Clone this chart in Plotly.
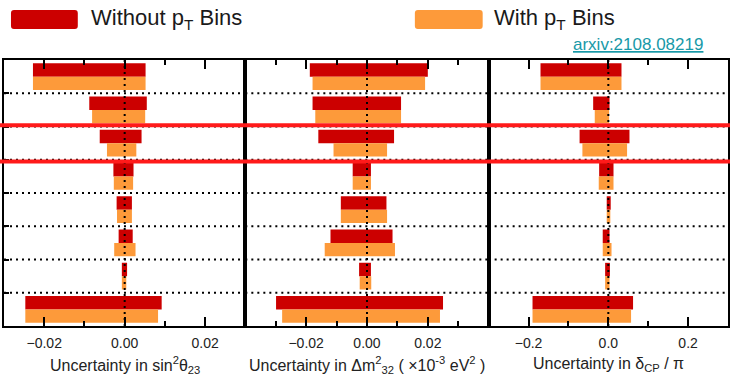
import plotly.graph_objects as go

# ---- data ----
rows = [0, 1, 2, 3, 4, 5, 6, 7]

# sin^2 theta23
s23_wo_lo = [-0.0228, -0.0088, -0.0062, -0.0028, -0.0020, -0.0015, -0.0007, -0.0247]
s23_wo_hi = [0.0052, 0.0055, 0.0042, 0.0022, 0.0018, 0.0020, 0.0006, 0.0092]
s23_w_lo = [-0.0228, -0.0081, -0.0044, -0.0027, -0.0019, -0.0026, -0.0007, -0.0247]
s23_w_hi = [0.0052, 0.0051, 0.0029, 0.0021, 0.0018, 0.0027, 0.0004, 0.0083]

# delta m^2_32
dm_wo_lo = [-0.0188, -0.0179, -0.0160, -0.0047, -0.0086, -0.0120, -0.0026, -0.0299]
dm_wo_hi = [0.0200, 0.0112, 0.0089, 0.0013, 0.0064, 0.0084, 0.0013, 0.0250]
dm_w_lo = [-0.0179, -0.0170, -0.0110, -0.0047, -0.0086, -0.0139, -0.0024, -0.0279]
dm_w_hi = [0.0191, 0.0112, 0.0066, 0.0013, 0.0066, 0.0092, 0.0014, 0.0240]

# delta_CP / pi
cp_wo_lo = [-0.170, -0.038, -0.072, -0.023, -0.004, -0.014, -0.008, -0.190]
cp_wo_hi = [0.033, 0.003, 0.053, 0.013, 0.006, 0.003, 0.004, 0.062]
cp_w_lo = [-0.170, -0.034, -0.065, -0.024, -0.004, -0.014, -0.008, -0.190]
cp_w_hi = [0.033, 0.002, 0.047, 0.013, 0.005, 0.008, 0.003, 0.057]

series_names = ["Without p<sub>T</sub> Bins", "With p<sub>T</sub> Bins"]
axis_titles = [
    "Uncertainty in sin<sup>2</sup>θ<sub>23</sub>",
    "Uncertainty in Δm<sup>2</sup><sub>32</sub> ( ×10<sup>-3</sup> eV<sup>2</sup> )",
    "Uncertainty in δ<sub>CP</sub> / π",
]
x_ranges = [[-0.03, 0.03], [-0.04, 0.04], [-0.3, 0.3]]
x_majors = [[-0.02, 0.0, 0.02], [-0.02, 0.0, 0.02], [-0.2, 0.0, 0.2]]
x_minor = [0.01, 0.01, 0.1]
x_fmt = [".2f", ".2f", ".1f"]
separators = [0.5, 1.5, 2.5, 3.5, 4.5, 5.5, 6.5]
highlight_y = [1.46, 2.55]

RED = "#cc0000"
ORANGE = "#fd9a3a"
FONT = "Liberation Sans, Arial, sans-serif"

panels = [
    (s23_wo_lo, s23_wo_hi, s23_w_lo, s23_w_hi),
    (dm_wo_lo, dm_wo_hi, dm_w_lo, dm_w_hi),
    (cp_wo_lo, cp_wo_hi, cp_w_lo, cp_w_hi),
]
domains = [[0.0, 1 / 3], [1 / 3, 0.6694], [0.6694, 1.0]]

fig = go.Figure()
shapes = []
annotations = []

for i, (wlo, whi, plo, phi) in enumerate(panels):
    xa = "x" if i == 0 else f"x{i+1}"
    ya = "y" if i == 0 else f"y{i+1}"
    fig.add_trace(go.Bar(
        orientation="h", y=rows, base=wlo,
        x=[h - l for l, h in zip(wlo, whi)],
        width=0.4, offset=-0.4, marker=dict(color=RED, line=dict(width=0)),
        xaxis=xa, yaxis=ya, showlegend=False, name=series_names[0]))
    fig.add_trace(go.Bar(
        orientation="h", y=rows, base=plo,
        x=[h - l for l, h in zip(plo, phi)],
        width=0.4, offset=0.0, marker=dict(color=ORANGE, line=dict(width=0)),
        xaxis=xa, yaxis=ya, showlegend=False, name=series_names[1]))

    xkey = "xaxis" if i == 0 else f"xaxis{i+1}"
    ykey = "yaxis" if i == 0 else f"yaxis{i+1}"
    fig.layout[xkey] = dict(
        domain=domains[i], range=x_ranges[i], anchor=ya,
        tickmode="array", tickvals=x_majors[i], tickformat=x_fmt[i],
        ticks="inside", ticklen=9, tickwidth=2, tickcolor="black",
        minor=dict(tickmode="linear", tick0=0, dtick=x_minor[i], ticks="inside",
                   ticklen=5, tickwidth=2, tickcolor="black"),
        showline=True, linewidth=2, linecolor="black", mirror="allticks",
        showgrid=False, zeroline=False, ticklabelstandoff=3,
        tickfont=dict(family=FONT, size=14, color="#222222"),
        fixedrange=True,
    )
    fig.layout[ykey] = dict(
        domain=[0, 1], range=[7.5, -0.5], anchor=xa,
        tickmode="array", tickvals=separators if i == 0 else [],
        ticks="inside" if i == 0 else "", ticklen=5, tickwidth=2, tickcolor="black",
        showticklabels=False, showline=True, linewidth=2, linecolor="black",
        mirror=True, showgrid=False, zeroline=False, fixedrange=True,
    )
    # row separators (dotted)
    for s in separators:
        shapes.append(dict(type="line", xref=f"{xa} domain", yref=ya,
                           x0=0, x1=1, y0=s, y1=s,
                           line=dict(color="black", width=2, dash="2px,4px"),
                           layer="above"))
    # dotted zero line
    shapes.append(dict(type="line", xref=xa, yref=f"{ya} domain",
                       x0=0, x1=0, y0=0, y1=1,
                       line=dict(color="black", width=2, dash="2px,4px"),
                       layer="above"))
    # axis title
    annotations.append(dict(text=axis_titles[i], xref=f"{xa} domain", yref="paper",
                            x=0.5, y=-0.145, xanchor="center", yanchor="middle",
                            showarrow=False,
                            font=dict(family=FONT, size=16, color="#222222")))

# red highlight lines across the whole width
for hy in highlight_y:
    shapes.append(dict(type="line", xref="paper", yref="y",
                       x0=-4 / 726, x1=1 + 2 / 726, y0=hy, y1=hy,
                       line=dict(color="#ff1a1a", width=4), layer="above"))


def rounded_rect(x0, x1, y0, y1, rx, ry):
    return (f"M{x0+rx},{y0} L{x1-rx},{y0} Q{x1},{y0} {x1},{y0+ry} "
            f"L{x1},{y1-ry} Q{x1},{y1} {x1-rx},{y1} L{x0+rx},{y1} "
            f"Q{x0},{y1} {x0},{y1-ry} L{x0},{y0+ry} Q{x0},{y0} {x0+rx},{y0} Z")


def px_x(p):
    return (p - 4) / 726


def px_y(p):
    return (326 - p) / 266


rx, ry = 3 / 726, 3 / 266
# legend swatches
for (xa0, xa1, col) in [(11, 78, RED), (416, 484, ORANGE)]:
    shapes.append(dict(type="path", xref="paper", yref="paper",
                       path=rounded_rect(px_x(xa0), px_x(xa1), px_y(29), px_y(10), rx, ry),
                       fillcolor=col, line=dict(width=0)))

annotations.append(dict(text=series_names[0], xref="paper", yref="paper",
                        x=px_x(89), y=px_y(19), xanchor="left", yanchor="middle",
                        showarrow=False, font=dict(family=FONT, size=22, color="#1a1a1a")))
annotations.append(dict(text=series_names[1], xref="paper", yref="paper",
                        x=px_x(493), y=px_y(19), xanchor="left", yanchor="middle",
                        showarrow=False, font=dict(family=FONT, size=22, color="#1a1a1a")))
annotations.append(dict(text="<u>arxiv:2108.08219</u>", xref="paper", yref="paper",
                        x=px_x(573), y=px_y(45), xanchor="left", yanchor="middle",
                        showarrow=False, font=dict(family=FONT, size=17, color="#1899a8")))

fig.update_layout(
    width=732, height=378,
    margin=dict(l=4, r=2, t=60, b=52),
    paper_bgcolor="white", plot_bgcolor="white",
    barmode="overlay",
    shapes=shapes, annotations=annotations,
    showlegend=False,
    font=dict(family=FONT),
)

fig.write_html("out.html", config={"displayModeBar": False})
